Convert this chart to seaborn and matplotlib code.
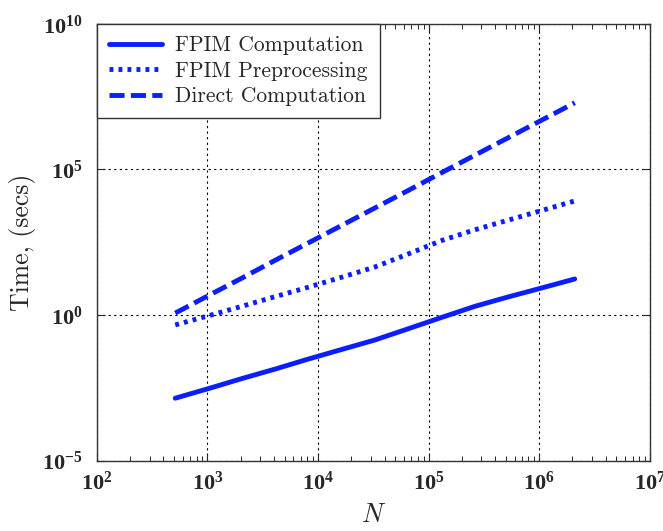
import matplotlib
matplotlib.use("Agg")
import matplotlib.pyplot as plt
import matplotlib.ticker as mticker
import numpy as np
import pandas as pd
import seaborn as sns

# ---- data ----
N = [512, 1024, 2048, 4096, 8192, 16384, 32768, 65536, 131072,
     262144, 524288, 1048576, 2097152]
fpim_comp = [1.4e-3, 3.0e-3, 6.6e-3, 1.4e-2, 3.1e-2, 6.6e-2, 0.14,
             0.34, 0.83, 2.0, 4.2, 8.5, 17.4]
fpim_pre = [0.46, 0.95, 2.0, 4.3, 9.1, 20.0, 45.0, 126.0, 363.0,
            851.0, 1820.0, 3890.0, 8320.0]
direct = [1.17, 4.7, 18.6, 76.0, 302.0, 1200.0, 4790.0, 19100.0,
          77600.0, 3.09e5, 1.23e6, 4.9e6, 1.95e7]
labels = ["FPIM Computation", "FPIM Preprocessing", "Direct Computation"]
styles = ["-", (0, (0.8, 1.05)), (0, (3.1, 1.3))]

sns.set_style("ticks")
plt.rcParams["font.family"] = ["cmr10", "DejaVu Serif"]
plt.rcParams["mathtext.fontset"] = "custom"
plt.rcParams["mathtext.rm"] = "cmr10"
plt.rcParams["mathtext.it"] = "cmmi10"
plt.rcParams["mathtext.bf"] = "Liberation Serif:bold"
plt.rcParams["axes.formatter.use_mathtext"] = True

fig = plt.figure(figsize=(6.63, 5.31), dpi=100)
ax = fig.add_axes([0.146, 0.1324, 0.834, 0.8226])

for vals, lab, ls in zip([fpim_comp, fpim_pre, direct], labels, styles):
    df = pd.DataFrame({"N": N, "t": vals})
    sns.lineplot(data=df, x="N", y="t", ax=ax, color="#0a1eff", linewidth=3.5,
                 linestyle=ls, label=lab, estimator=None, sort=False)

ax.set_xscale("log")
ax.set_yscale("log")
ax.set_xlim(1e2, 1e7)
ax.set_ylim(1e-5, 1e10)

ax.xaxis.set_major_locator(mticker.FixedLocator([1e2, 1e3, 1e4, 1e5, 1e6, 1e7]))
ax.xaxis.set_minor_locator(mticker.LogLocator(base=10, subs=np.arange(2, 10), numticks=20))
ax.xaxis.set_minor_formatter(mticker.NullFormatter())
ax.yaxis.set_major_locator(mticker.FixedLocator([1e-5, 1e0, 1e5, 1e10]))
ax.yaxis.set_minor_locator(mticker.NullLocator())

fmt = mticker.FuncFormatter(lambda v, p: r"$\mathbf{10^{%d}}$" % int(round(np.log10(v))))
ax.xaxis.set_major_formatter(fmt)
ax.yaxis.set_major_formatter(fmt)

ax.tick_params(which="both", direction="in", top=True, right=True, labelsize=16)
ax.tick_params(which="major", length=6, width=0.8)
ax.tick_params(which="minor", length=3.5, width=0.7)
ax.tick_params(axis="x", pad=7)
ax.tick_params(axis="y", pad=10)

ax.grid(True, which="major", color="black", linestyle=(0, (2, 3)), linewidth=0.8)
for s in ax.spines.values():
    s.set_color("#333333")
    s.set_linewidth(1.0)

ax.set_xlabel(r"$N$", fontsize=19)
ax.set_ylabel("Time, (secs)", fontsize=18.5)
ax.xaxis.set_label_coords(0.5, -0.098)
ax.yaxis.set_label_coords(-0.11, 0.5)

leg = ax.legend(loc="upper left", borderaxespad=0.0, fancybox=False, framealpha=1,
                edgecolor="#333333", fontsize=15.5, handlelength=2.5,
                labelspacing=0.28, handletextpad=0.6, borderpad=0.55)
leg.get_frame().set_linewidth(1.0)

fig.savefig("out.png", dpi=100)
